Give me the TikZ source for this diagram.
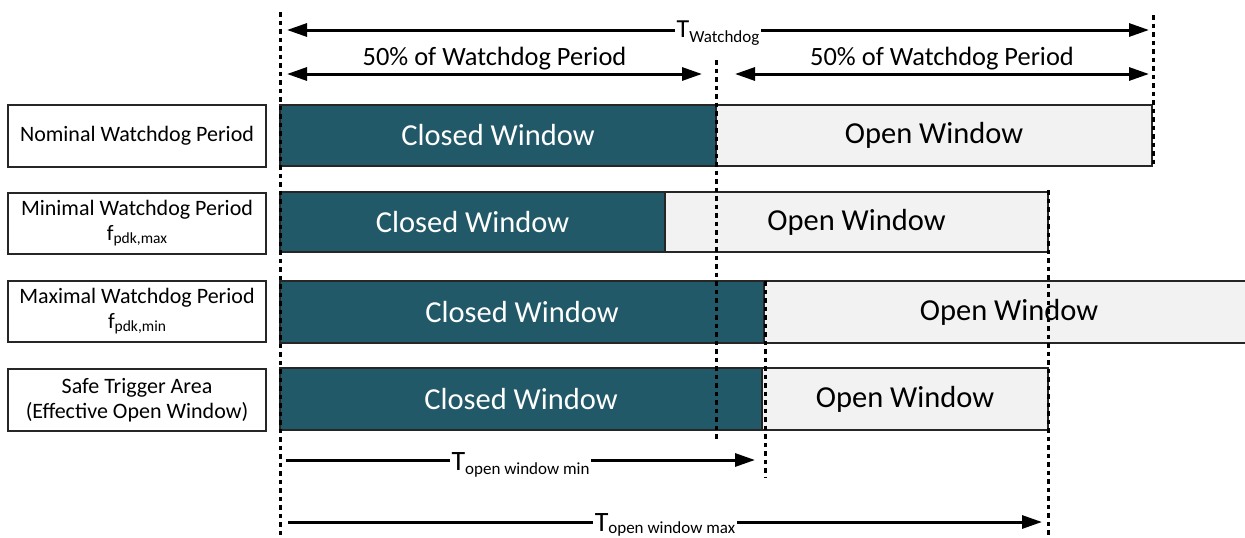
\documentclass[tikz,border=0pt]{standalone}
\usepackage{fontspec}
\setmainfont{Carlito}
\usetikzlibrary{arrows.meta}
\definecolor{closedfill}{RGB}{33,89,104}
\definecolor{openfill}{RGB}{242,242,242}
\newcommand\lsub[1]{\raisebox{-3.5pt}{\fontsize{15.5}{15.5}\selectfont #1}}
\newcommand\tsub[2]{\raisebox{-#1}{\fontsize{17}{17}\selectfont #2}}
\begin{document}
\begin{tikzpicture}[x=1pt,y=-1pt,
  win/.style={draw=black!85, line width=1.3pt, inner sep=0pt, outer sep=0pt, anchor=north west,
    font=\fontsize{30.5}{36}\selectfont},
  closedwin/.style={win, fill=closedfill, text=white},
  openwin/.style={win, fill=openfill, text=black},
  lbl/.style={draw=black!85, line width=1.2pt, inner sep=0pt, outer sep=0pt, anchor=north west,
    minimum width=258pt, align=center, font=\fontsize{22}{24.5}\selectfont},
  guide/.style={line width=3pt, dash pattern=on 4.5pt off 4pt},
  dimline/.style={line width=3pt},
  tip/.tip={Triangle[length=20pt,width=13pt]},
  dimlabel/.style={fill=white, inner sep=1.5pt, anchor=base}
]
\useasboundingbox (0,0) rectangle (1245,538);

% row labels
\node[lbl, minimum height=62pt] (l1) at (8,105) {Nominal Watchdog Period};
\node[lbl, minimum height=61pt] (l2) at (8,193) {Minimal Watchdog Period\\ f\lsub{pdk,max}};
\node[lbl, minimum height=61pt] (l3) at (8,281) {Maximal Watchdog Period\\ f\lsub{pdk,min}};
\node[lbl, minimum height=62pt] (l4) at (8,369) {Safe Trigger Area\\ (Effective Open Window)};

% windows
\node[closedwin, minimum width=436pt, minimum height=61pt] (c1) at (280,105) {Closed Window};
\node[openwin, minimum width=436pt, minimum height=61pt] (o1) at (c1.north east) {Open Window};

\node[closedwin, minimum width=385pt, minimum height=60pt] (c2) at (280,192) {Closed Window};
\node[openwin, minimum width=383pt, minimum height=60pt] (o2) at (c2.north east) {Open Window};

\node[closedwin, minimum width=484pt, minimum height=62pt] (c3) at (280,281) {Closed Window};
\node[openwin, minimum width=490pt, minimum height=62pt] (o3) at (c3.north east) {Open Window};

\node[closedwin, minimum width=482pt, minimum height=62pt] (c4) at (280,368) {Closed Window};
\node[openwin, minimum width=286pt, minimum height=62pt] (o4) at (c4.north east) {Open Window};

% guide lines
\coordinate (gL1) at (280,12);   \coordinate (gL2) at (280,540);
\coordinate (gM1) at (716,60);   \coordinate (gM2) at (716,440);
\coordinate (gR1) at (1153,15);  \coordinate (gR2) at (1153,167);
\coordinate (gA1) at (765,281);  \coordinate (gA2) at (765,477);
\coordinate (gB1) at (1048,190); \coordinate (gB2) at (1048,540);
\draw[guide] (gL1) -- (gL2);
\draw[guide] (gM1) -- (gM2);
\draw[guide] (gR1) -- (gR2);
\draw[guide] (gA1) -- (gA2);
\draw[guide] (gB1) -- (gB2);

% dimension arrows
\coordinate (tw1) at (287,30);  \coordinate (tw2) at (1149,30);
\coordinate (ha1) at (287,74);  \coordinate (ha2) at (702,74);
\coordinate (hb1) at (735,74);  \coordinate (hb2) at (1149,74);
\coordinate (om1) at (286,460); \coordinate (om2) at (755,460);
\coordinate (ox1) at (288,522); \coordinate (ox2) at (1042,522);

\draw[dimline, tip-tip] (tw1) -- (tw2)
  node[dimlabel, pos=0.5, yshift=-7.5pt] {\fontsize{26}{26}\selectfont T\tsub{5pt}{Watchdog}};
\draw[dimline, tip-tip] (ha1) -- (ha2)
  node[pos=0.5, anchor=base, inner sep=0pt, yshift=9pt, font=\fontsize{26.4}{30}\selectfont] {50\% of Watchdog Period};
\draw[dimline, tip-tip] (hb1) -- (hb2)
  node[pos=0.5, anchor=base, inner sep=0pt, yshift=9pt, font=\fontsize{26.4}{30}\selectfont] {50\% of Watchdog Period};
\draw[dimline, -tip] (om1) -- (om2)
  node[dimlabel, pos=0.5, yshift=-10pt] {\fontsize{28}{28}\selectfont T\tsub{4pt}{open window min}};
\draw[dimline, -tip] (ox1) -- (ox2)
  node[dimlabel, pos=0.5, yshift=-9pt] {\fontsize{28}{28}\selectfont T\tsub{2.5pt}{open window max}};
\end{tikzpicture}
\end{document}
